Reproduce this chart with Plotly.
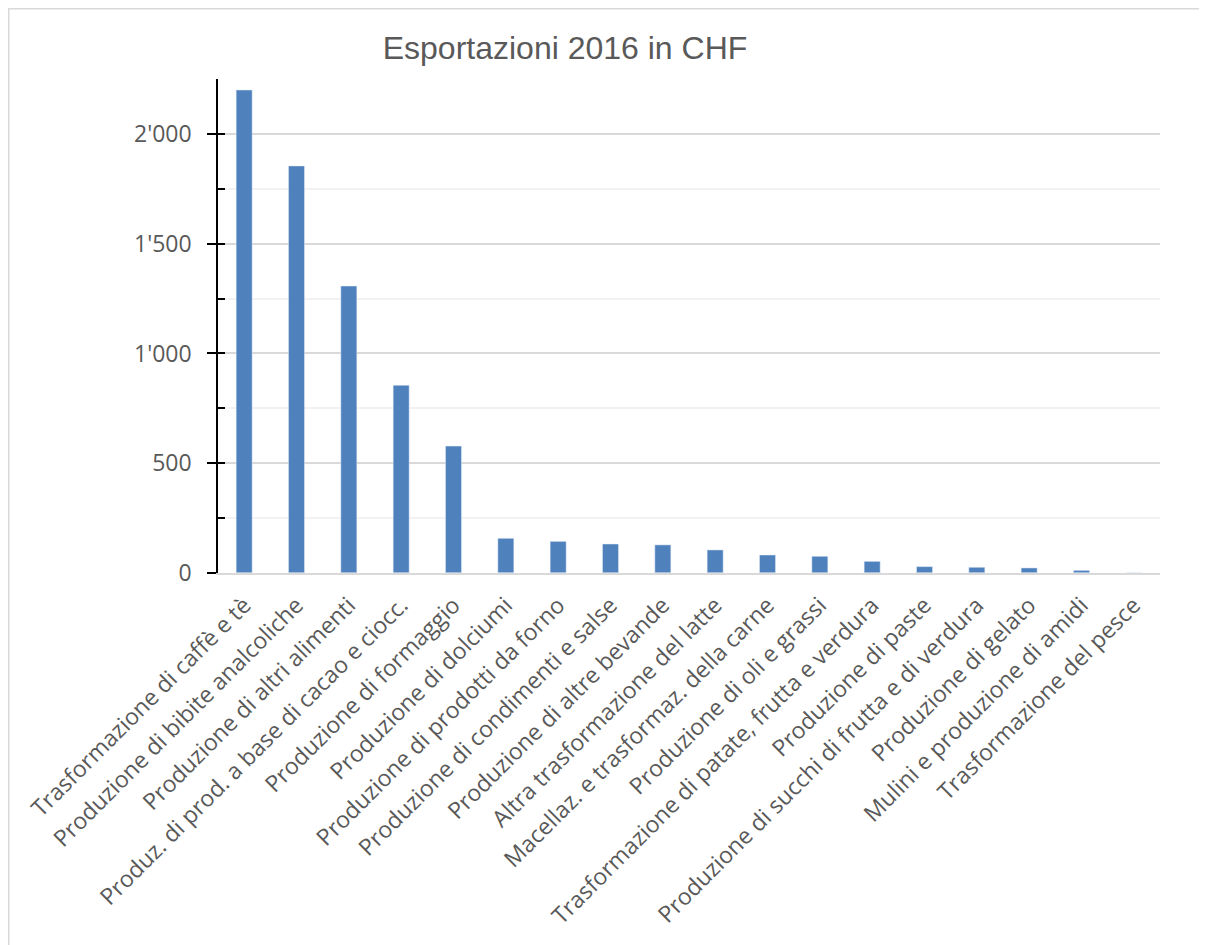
import plotly.graph_objects as go

# Esportazioni 2016 in CHF (milioni)
categories = [
    "Trasformazione di caffè e tè",
    "Produzione di bibite analcoliche",
    "Produzione di altri alimenti",
    "Produz. di prod. a base di cacao e ciocc.",
    "Produzione di formaggio",
    "Produzione di dolciumi",
    "Produzione di prodotti da forno",
    "Produzione di condimenti e salse",
    "Produzione di altre bevande",
    "Altra trasformazione del latte",
    "Macellaz. e trasformaz. della carne",
    "Produzione di oli e grassi",
    "Trasformazione di patate, frutta e verdura",
    "Produzione di paste",
    "Produzione di succhi di frutta e di verdura",
    "Produzione di gelato",
    "Mulini e produzione di amidi",
    "Trasformazione del pesce",
]
values = [2200, 1854, 1307, 855, 578, 158, 144, 132, 128, 105, 82, 76, 53, 29, 26, 23, 12, 0.5]

y_ticks = [0, 500, 1000, 1500, 2000]

# page has an 8px body margin, so the figure is a bit smaller than the window
W, H = 1199, 937
L, R, T, B = 210, 47, 71, 372
plot_w = W - L - R
plot_h = H - T - B

colors = {
    'bar': '#4F81BD',
    'text': '#595959',
    'grid': '#d9d9d9',
    'minor_grid': '#f2f2f2',
}

fig = go.Figure()
fig.add_trace(go.Bar(
    x=categories,
    y=values,
    marker=dict(color=colors['bar']),
    hovertemplate='<b>%{x}</b><br>%{y}<extra></extra>',
))

# empty trace on the overlay axis so the inside ticks get drawn
fig.add_trace(go.Bar(x=categories, y=[0] * len(categories), yaxis='y2',
                     hoverinfo='skip', marker=dict(color='rgba(0,0,0,0)')))

fig.update_layout(
    width=W,
    height=H,
    margin=dict(l=L, r=R, t=T, b=B),
    plot_bgcolor='white',
    paper_bgcolor='white',
    separators=".'",
    bargap=0.694,
    barmode='overlay',
    showlegend=False,
    font=dict(family='Open Sans, sans-serif', color=colors['text']),
    title=dict(
        text='Esportazioni 2016 in CHF',
        font=dict(family='Liberation Sans, Arial, sans-serif', size=32, color=colors['text']),
        xref='container', x=557 / W, xanchor='center',
        yref='container', y=1 - 40 / H, yanchor='middle',
    ),
    xaxis=dict(
        range=[-0.5, len(categories) - 0.5],
        tickangle=-45,
        tickfont=dict(size=23, color=colors['text']),
        showline=True, linecolor=colors['grid'], linewidth=1.5,
        showgrid=False, ticks='',
        ticklabelstandoff=8,
    ),
    yaxis=dict(
        range=[0, 2250],
        tickvals=y_ticks,
        tickformat=',d',
        tickfont=dict(size=23, color=colors['text']),
        showline=True, linecolor='black', linewidth=1.5,
        ticks='outside', ticklen=9, tickcolor='black', tickwidth=1.5,
        ticklabelstandoff=11,
        showgrid=True, gridcolor=colors['grid'], gridwidth=1.5,
        minor=dict(dtick=250, showgrid=True, gridcolor=colors['minor_grid'], gridwidth=1.5),
        zeroline=False,
    ),
    yaxis2=dict(
        overlaying='y', side='left', range=[0, 2250], dtick=250,
        ticks='inside', ticklen=7, tickcolor='black', tickwidth=1.5,
        showticklabels=False, showgrid=False, showline=False, zeroline=False,
    ),
)

# chart area border (left and top edges visible)
fig.add_shape(
    type='rect', xref='paper', yref='paper',
    x0=(0.75 - L) / plot_w, x1=(W + 10 - L) / plot_w,
    y0=-(B + 10) / plot_h, y1=(plot_h + T - 0.75) / plot_h,
    line=dict(color=colors['grid'], width=1.5),
    layer='below',
)

fig.write_html("out.html")
